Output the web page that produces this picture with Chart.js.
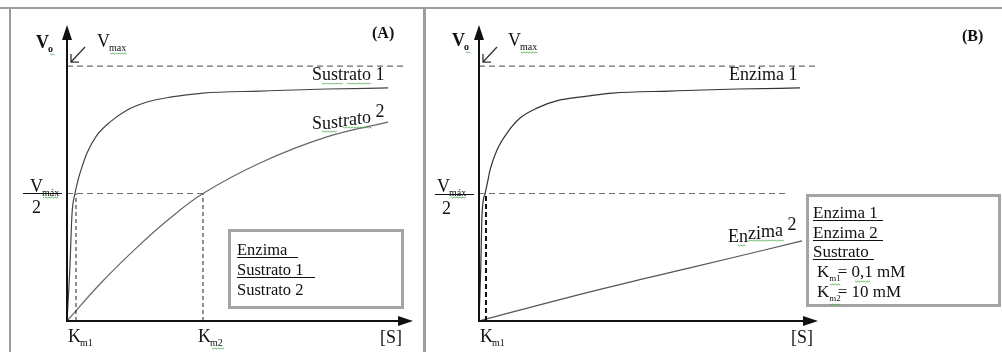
<!DOCTYPE html>
<html>
<head>
<meta charset="utf-8">
<script src="https://cdn.jsdelivr.net/npm/chart.js@4.4.0/dist/chart.umd.min.js"></script>
<style>
  body { margin: 0; background: #fff; }
  #wrap { position: relative; width: 1002px; height: 352px; }
  #wrap canvas { position: absolute; left: 0; top: 0; }
</style>
</head>
<body>
<div id="wrap">
  <canvas id="chartA" width="1002" height="352"></canvas>
  <canvas id="chartB" width="1002" height="352"></canvas>
</div>
<script>
// [S] on a 0-100 axis, v as a fraction of Vmax
var sustrato1S = [0, 0.8, 1.45, 2.3, 3.2, 3.76, 5.78, 8.67, 12.4, 17.3, 23.1, 29.8, 39.3, 55.8, 75.1, 92.8];
var sustrato1V = [0, 0.2, 0.42, 0.5, 0.553, 0.58, 0.659, 0.729, 0.78, 0.827, 0.859, 0.878, 0.894, 0.902, 0.91, 0.914];
var sustrato2S = [0, 9.8, 19.7, 29.5, 39.3, 55.8, 75.1, 92.8];
var sustrato2V = [0, 0.149, 0.282, 0.4, 0.5, 0.62, 0.722, 0.78];

var enzima1S = [0, 0.5, 0.9, 1.8, 2.65, 3.24, 5.31, 8.26, 12.1, 17.1, 23.9, 31.9, 39.5, 56.3, 76.1, 94.7];
var enzima1V = [0, 0.2, 0.42, 0.5, 0.553, 0.592, 0.671, 0.737, 0.796, 0.835, 0.867, 0.882, 0.894, 0.902, 0.91, 0.914];
var enzima2S = [0, 25, 50, 75, 95.3];
var enzima2V = [0, 0.088, 0.17, 0.249, 0.314];

var kmA = [2.6, 39.3];   // Km1, Km2
var kmB = [2.06];        // Km1
var vmax = 1;
var yTop = 1.161;

var FONT = '"Liberation Serif", "Times New Roman", serif';

function pts(xs, ys) {
    return xs.map(function (x, i) { return { x: x, y: ys[i] }; });
}

function curve(xs, ys, color, smooth) {
    var ds = { data: pts(xs, ys), borderColor: color, borderWidth: 1.2,
        pointRadius: 0, fill: false, clip: false };
    if (smooth) ds.tension = 0.4;
    else ds.cubicInterpolationMode = 'monotone';
    return ds;
}

function dashed(points, color, width, dash) {
    return { data: points, borderColor: color, borderWidth: width, borderDash: dash,
        pointRadius: 0, tension: 0, fill: false, clip: false };
}

function write(ctx, s, x, y, size, bold) {
    ctx.font = (bold ? 'bold ' : '') + size + 'px ' + FONT;
    ctx.fillText(s, x, y);
    return x + ctx.measureText(s).width;
}

function sub(ctx, main, small, x, y, bold, size) {
    var e = write(ctx, main, x, y, size || 18, bold);
    return write(ctx, small, e - 1, y + 4, 10, bold);
}

// Word-style spelling squiggle
function squiggle(ctx, x1, x2, y) {
    ctx.save();
    ctx.strokeStyle = '#45a845';
    ctx.lineWidth = 0.8;
    ctx.beginPath();
    var i = 0;
    for (var x = x1; x <= x2; x += 1.5, i++) {
        var yy = y + (i % 2 ? 1 : 0);
        if (i === 0) ctx.moveTo(x, yy); else ctx.lineTo(x, yy);
    }
    ctx.stroke();
    ctx.restore();
}

// letters of a label riding up along a curve
function wavy(ctx, chars, x, baselines, size) {
    ctx.font = size + 'px ' + FONT;
    for (var i = 0; i < chars.length; i++) {
        ctx.fillText(chars[i], x, baselines[i]);
        x += ctx.measureText(chars[i]).width;
    }
}

function drawAxes(chart) {
    var ctx = chart.ctx, a = chart.chartArea;
    var x0 = chart.scales.x.getPixelForValue(0);
    var y0 = chart.scales.y.getPixelForValue(0);
    var yv = chart.scales.y.getPixelForValue(vmax);
    ctx.save();
    ctx.strokeStyle = '#111';
    ctx.fillStyle = '#111';
    ctx.lineWidth = 2;
    ctx.beginPath();
    ctx.moveTo(x0, y0 + 1); ctx.lineTo(x0, a.top + 12);
    ctx.moveTo(x0 - 1, y0); ctx.lineTo(a.right - 12, y0);
    ctx.stroke();
    ctx.beginPath();
    ctx.moveTo(x0, a.top); ctx.lineTo(x0 - 5, a.top + 15); ctx.lineTo(x0 + 5, a.top + 15);
    ctx.closePath(); ctx.fill();
    ctx.beginPath();
    ctx.moveTo(a.right, y0); ctx.lineTo(a.right - 15, y0 - 5); ctx.lineTo(a.right - 15, y0 + 5);
    ctx.closePath(); ctx.fill();

    // little arrow pointing at Vmax
    var tx = x0 + 4, ty = yv - 4;
    ctx.strokeStyle = '#333';
    ctx.lineWidth = 1.3;
    ctx.beginPath();
    ctx.moveTo(x0 + 18, yv - 19); ctx.lineTo(tx, ty);
    ctx.moveTo(tx, ty - 8); ctx.lineTo(tx, ty); ctx.lineTo(tx + 8, ty);
    ctx.stroke();
    ctx.restore();
}

function box(ctx, x1, y1, x2, y2) {
    ctx.save();
    ctx.strokeStyle = '#a4a4a4';
    ctx.lineWidth = 3;
    ctx.strokeRect(x1, y1, x2 - x1, y2 - y1);
    ctx.restore();
}

function underline(ctx, x1, x2, y) {
    ctx.fillRect(x1, y, x2 - x1, 1);
}

var panelA = {
    id: 'panelA',
    afterDraw: function (chart) {
        var ctx = chart.ctx, sx = chart.scales.x;
        // page frame
        ctx.save();
        ctx.fillStyle = '#9c9c9c';
        ctx.fillRect(0, 7, 1002, 2);
        ctx.fillRect(9, 7, 2, 345);
        ctx.fillRect(423, 7, 3, 345);
        ctx.restore();

        drawAxes(chart);

        ctx.save();
        ctx.fillStyle = '#111';
        sub(ctx, 'V', 'o', 36, 48, true);
        squiggle(ctx, 50, 55, 54);
        sub(ctx, 'V', 'max', 97, 47);
        squiggle(ctx, 110, 127, 53);
        write(ctx, '(A)', 372, 38, 16, true);

        write(ctx, 'Sustrato 1', 312, 80, 18);
        squiggle(ctx, 322, 343, 83);
        squiggle(ctx, 347, 372, 83);
        wavy(ctx, 'Sustrato 2', 312, [129, 129, 128, 127, 126, 125, 124, 123, 121, 117], 18);
        squiggle(ctx, 322, 337, 131);
        squiggle(ctx, 343, 372, 127);

        // Vmax / 2
        sub(ctx, 'V', 'máx', 30, 192);
        squiggle(ctx, 43, 58, 197);
        ctx.fillRect(23, 193, 39, 1);
        write(ctx, '2', 32, 213, 18);

        var k1 = sx.getPixelForValue(kmA[0]), k2 = sx.getPixelForValue(kmA[1]);
        sub(ctx, 'K', 'm1', k1 - 8, 342);
        sub(ctx, 'K', 'm2', k2 - 5, 342);
        squiggle(ctx, k2 + 9, k2 + 22, 348);
        write(ctx, '[S]', 380, 343, 18);

        box(ctx, 229.5, 230.5, 402.5, 307.5);
        ctx.fillStyle = '#111';
        write(ctx, 'Enzima', 237, 255, 16.5);
        underline(ctx, 237, 298, 257);
        write(ctx, 'Sustrato 1', 237, 275, 16.5);
        underline(ctx, 237, 315, 277);
        write(ctx, 'Sustrato 2', 237, 295, 16.5);
        ctx.restore();
    }
};

var panelB = {
    id: 'panelB',
    afterDraw: function (chart) {
        var ctx = chart.ctx, sx = chart.scales.x;
        drawAxes(chart);

        ctx.save();
        ctx.fillStyle = '#111';
        sub(ctx, 'V', 'o', 452, 46, true);
        squiggle(ctx, 466, 471, 52);
        sub(ctx, 'V', 'max', 508, 46);
        squiggle(ctx, 521, 538, 52);
        write(ctx, '(B)', 962, 41, 16, true);

        write(ctx, 'Enzima 1', 729, 80, 18);
        wavy(ctx, 'Enzima 2', 728, [242, 242, 239, 239, 237, 236, 232, 230], 18);
        squiggle(ctx, 738, 746, 245);
        squiggle(ctx, 748, 785, 240);

        sub(ctx, 'V', 'máx', 437, 192);
        squiggle(ctx, 451, 466, 197);
        ctx.fillRect(435, 194, 39, 1);
        write(ctx, '2', 442, 214, 18);

        var k1 = sx.getPixelForValue(kmB[0]);
        sub(ctx, 'K', 'm1', k1 - 6, 342);
        write(ctx, '[S]', 791, 343, 18);

        box(ctx, 807.5, 195.5, 999.5, 305.5);
        ctx.fillStyle = '#111';
        write(ctx, 'Enzima 1', 813, 218, 17);
        underline(ctx, 813, 883, 220);
        write(ctx, 'Enzima 2', 813, 238, 17);
        underline(ctx, 813, 883, 240);
        write(ctx, 'Sustrato', 813, 257, 17);
        underline(ctx, 813, 874, 259);

        var e = write(ctx, 'K', 817, 277, 17);
        e = write(ctx, 'm1', e, 281, 9);
        squiggle(ctx, e - 11, e, 284);
        e = write(ctx, '=', e - 3, 277, 17);
        e = write(ctx, ' 0,1 mM', e, 277, 17);
        squiggle(ctx, 855, 870, 281);

        e = write(ctx, 'K', 817, 297, 17);
        e = write(ctx, 'm2', e, 301, 9);
        squiggle(ctx, e - 11, e, 304);
        e = write(ctx, '=', e - 3, 297, 17);
        write(ctx, ' 10 mM', e, 297, 17);
        ctx.restore();
    }
};

function makeChart(id, padding, datasets, plugin) {
    return new Chart(document.getElementById(id), {
        type: 'line',
        data: { datasets: datasets },
        options: {
            responsive: false,
            animation: false,
            devicePixelRatio: 1,
            layout: { padding: padding },
            plugins: { legend: { display: false }, tooltip: { enabled: false } },
            scales: {
                x: { type: 'linear', display: false, min: 0, max: 100 },
                y: { type: 'linear', display: false, min: 0, max: yTop }
            }
        },
        plugins: [plugin]
    });
}

var gray = '#6e6e6e', dash = [6, 4];

makeChart('chartA', { left: 67, right: 589, top: 25, bottom: 31 }, [
    dashed([{ x: 0, y: vmax }, { x: 97.7, y: vmax }], gray, 1.2, dash),
    dashed([{ x: 0, y: vmax / 2 }, { x: kmA[1], y: vmax / 2 }], gray, 1.2, dash),
    dashed([{ x: kmA[0], y: 0 }, { x: kmA[0], y: vmax / 2 }], '#222', 1, [4, 3]),
    dashed([{ x: kmA[1], y: 0 }, { x: kmA[1], y: vmax / 2 }], '#222', 1, [4, 3]),
    curve(sustrato1S, sustrato1V, '#444'),
    curve(sustrato2S, sustrato2V, '#666', true)
], panelA);

makeChart('chartB', { left: 479, right: 184, top: 25, bottom: 31 }, [
    dashed([{ x: 0, y: vmax }, { x: 99.7, y: vmax }], gray, 1.2, dash),
    dashed([{ x: 0, y: vmax / 2 }, { x: 90.3, y: vmax / 2 }], gray, 1.2, dash),
    dashed([{ x: kmB[0], y: 0 }, { x: kmB[0], y: vmax / 2 }], '#111', 2, [5, 3]),
    curve(enzima1S, enzima1V, '#333'),
    curve(enzima2S, enzima2V, '#555', true)
], panelB);
</script>
</body>
</html>
